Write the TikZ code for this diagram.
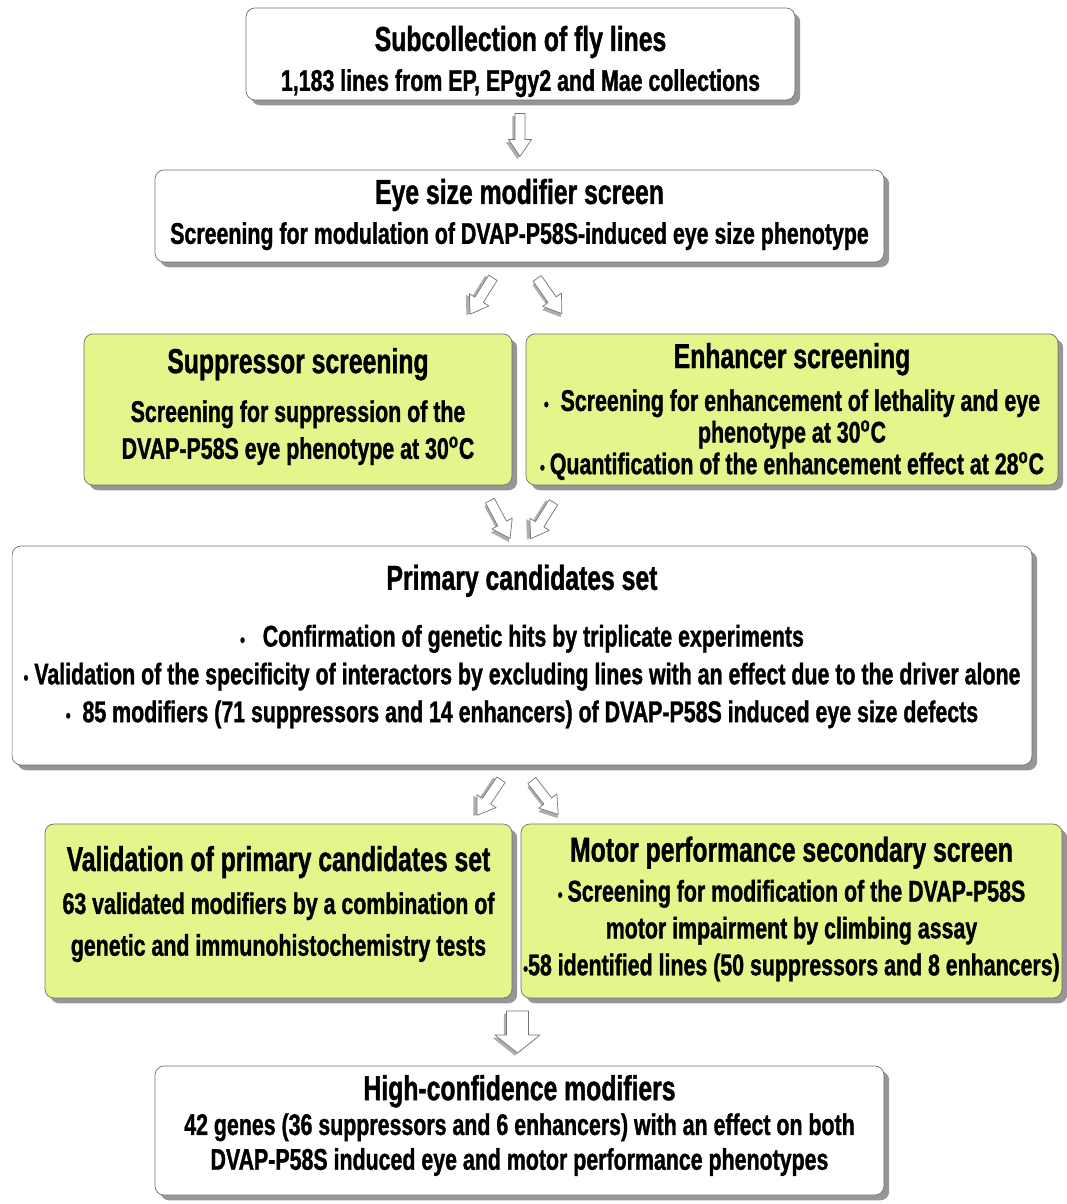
\documentclass[tikz,border=0pt]{standalone}
\usepackage{fontspec}
\usetikzlibrary{shadows,calc,positioning}
\newfontfamily\narrowbf[FakeStretch=0.715,FakeBold=1.1]{Liberation Sans Bold}
\definecolor{screengreen}{HTML}{E3F68B}
\definecolor{frameline}{HTML}{707070}
\newcommand\stagetitle[1]{{\fontsize{19.7}{21}\selectfont #1}}
\newcommand\dg{\textsuperscript{o}}
\newcommand\bdot{{\fontsize{11}{11}\selectfont •}}

\tikzset{
  stage/.style={draw=frameline, fill=white, rounded corners=5pt, inner sep=0pt,
    drop shadow={shadow xshift=3pt, shadow yshift=-3pt, opacity=0.55, fill=black!75}},
  screen/.style={stage, fill=screengreen},
  stagetext/.style={align=center, inner sep=0pt, font=\narrowbf\fontsize{17}{21}\selectfont},
  % hollow block arrow, drawn pointing along +x; args: length, shaft, head width, head length
  pics/blockarrow/.style n args={4}{code={
    \begin{scope}[x=1cm,y=1cm]
    \fill[black!70, opacity=0.45, shift={(1.5pt,-1.5pt)}]
      (-#1/2,-#2/2) -- (#1/2-#4,-#2/2) -- (#1/2-#4,-#3/2) -- (#1/2,0)
      -- (#1/2-#4,#3/2) -- (#1/2-#4,#2/2) -- (-#1/2,#2/2) -- cycle;
    \draw[black!55, fill=white, line join=round]
      (-#1/2,-#2/2) -- (#1/2-#4,-#2/2) -- (#1/2-#4,-#3/2) -- (#1/2,0)
      -- (#1/2-#4,#3/2) -- (#1/2-#4,#2/2) -- (-#1/2,#2/2) -- cycle;
    \end{scope}}}
}

\begin{document}
\begin{tikzpicture}[x=0.02cm,y=-0.02cm]
\useasboundingbox (0,0) rectangle (1067,1204);

% stage boxes
\node[stage, minimum width=10.98cm, minimum height=1.84cm] (sub) at (520.5,54) {};
\node[stage, minimum width=14.58cm, minimum height=1.84cm] (eye) at (519.5,216) {};
\node[screen, minimum width=8.56cm, minimum height=3.02cm] (supp) at (298,409.5) {};
\node[screen, minimum width=10.64cm, minimum height=3.02cm] (enh) at (792,409.5) {};
\node[stage, minimum width=20.4cm, minimum height=4.38cm] (prim) at (522,655.5) {};
\node[screen, minimum width=9.34cm, minimum height=3.48cm] (valid) at (278.5,911) {};
\node[screen, minimum width=10.82cm, minimum height=3.48cm] (motor) at (791.5,911) {};
\node[stage, minimum width=14.58cm, minimum height=2.58cm] (conf) at (519.5,1130.5) {};

% texts
\node[stagetext] (subtext) at ($(sub.center)+(0,7.5)$)
  {\stagetitle{Subcollection of fly lines}\\[1.7pt]
   1,183 lines from EP, EPgy2 and Mae collections};
\node[stagetext] (eyetext) at ($(eye.center)+(0,-1.5)$)
  {\stagetitle{Eye size modifier screen}\\[1.7pt]
   Screening for modulation of DVAP-P58S-induced eye size phenotype};
\node[stagetext] (supptext) at ($(supp.center)+(0,-3)$)
  {\stagetitle{Suppressor screening}\\[6.8pt]
   Screening for suppression of the\\
   DVAP-P58S eye phenotype at 30\dg C};
\node[stagetext] (enhtext) at ($(enh.center)+(0,2)$)
  {\stagetitle{Enhancer screening}\\[3.4pt]
   \bdot\ \ Screening for enhancement of lethality and eye\\[-3pt]
   phenotype at 30\dg C\\[-3pt]
   \bdot\,Quantification of the enhancement effect at 28\dg C};
\node[stagetext] (primtext) at ($(prim.center)+(0,-9)$)
  {\stagetitle{Primary candidates set}\\[11.3pt]
   \bdot\ \ \ Confirmation of genetic hits by triplicate experiments\\[0.5pt]
   \bdot\ Validation of the specificity of interactors by excluding lines with an effect due to the driver alone\\[0.5pt]
   \bdot\ \ 85 modifiers (71 suppressors and 14 enhancers) of DVAP-P58S induced eye size defects};
\node[stagetext] (validtext) at ($(valid.center)+(0,-7)$)
  {\stagetitle{Validation of primary candidates set}\\[3.4pt]
   63 validated modifiers by a combination of\\[2.8pt]
   genetic and immunohistochemistry tests};
\node[stagetext] (motortext) at ($(motor.center)+(0,-2)$)
  {\stagetitle{Motor performance secondary screen}\\[1.7pt]
   \bdot\,Screening for modification of the DVAP-P58S\\
   motor impairment by climbing assay\\
   \bdot 58 identified lines (50 suppressors and 8 enhancers)};
\node[stagetext] (conftext) at ($(conf.center)+(0,-5)$)
  {\stagetitle{High-confidence modifiers}\\[-1.2pt]
   42 genes (36 suppressors and 6 enhancers) with an effect on both\\[-1.2pt]
   DVAP-P58S induced eye and motor performance phenotypes};

% block arrows between stages
\pic[rotate=-90] at ($(sub.south)!0.5!(eye.north)$) {blockarrow={0.86}{0.2}{0.46}{0.34}};
\coordinate (m2) at ($(eye.south)!0.5!(eye.south |- supp.north)$);
\pic[rotate=-122] at ($(m2)+(-38,-2)$) {blockarrow={0.86}{0.2}{0.46}{0.34}};
\pic[rotate=-55] at ($(m2)+(30,-2)$) {blockarrow={0.86}{0.2}{0.46}{0.34}};
\coordinate (m3) at ($(prim.north)!0.5!(prim.north |- supp.south)$);
\pic[rotate=-62] at ($(m3)+(-22,4)$) {blockarrow={0.86}{0.2}{0.46}{0.34}};
\pic[rotate=-122] at ($(m3)+(20,5)$) {blockarrow={0.86}{0.2}{0.46}{0.34}};
\coordinate (m4) at ($(prim.south)!0.5!(prim.south |- valid.north)$);
\pic[rotate=-124] at ($(m4)+(-33,3)$) {blockarrow={0.86}{0.2}{0.46}{0.34}};
\pic[rotate=-52] at ($(m4)+(23,3)$) {blockarrow={0.86}{0.2}{0.46}{0.34}};
\pic[rotate=-90] at ($(conf.north)!0.5!(conf.north |- valid.south)+(-2,0)$) {blockarrow={0.84}{0.44}{0.9}{0.36}};
\end{tikzpicture}
\end{document}
